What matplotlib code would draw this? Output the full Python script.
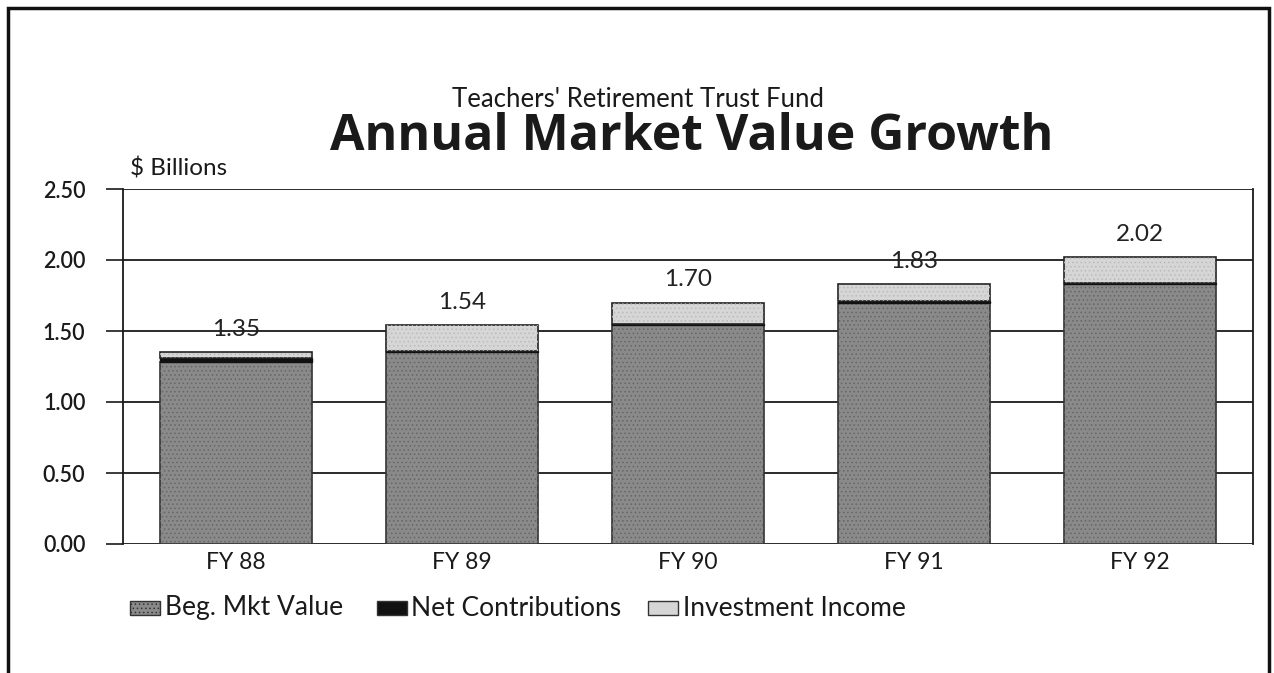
import matplotlib.pyplot as plt
import numpy as np
from matplotlib.patches import Rectangle

years = ["FY 88", "FY 89", "FY 90", "FY 91", "FY 92"]
beg_value = [1.28, 1.35, 1.54, 1.70, 1.83]
net_contrib = [0.03, 0.01, 0.01, 0.01, 0.01]
inv_income = [0.04, 0.18, 0.15, 0.12, 0.18]
totals = ["1.35", "1.54", "1.70", "1.83", "2.02"]
yticks = [0.0, 0.5, 1.0, 1.5, 2.0, 2.5]
legend_labels = ["Beg. Mkt Value", "Net Contributions", "Investment Income"]

plt.rcParams["font.family"] = ["Lato", "DejaVu Sans"]
plt.rcParams["hatch.linewidth"] = 0.6

W, H = 1274, 673
fig = plt.figure(figsize=(W / 100, H / 100), dpi=100)
fig.patch.set_facecolor("white")
ax = fig.add_axes([123 / W, 1 - 544 / H, 1130 / W, 355 / H])

x = np.arange(len(years))
w = 0.67
c_beg, c_net, c_inc = "#8a8a8a", "#111111", "#d6d6d6"
ink = "#1a1a1a"

beg = np.array(beg_value)
net = np.array(net_contrib)
inc = np.array(inv_income)

ax.bar(x, beg, w, color=c_beg, edgecolor="#333333", linewidth=1.2, zorder=3)
ax.bar(x, beg, w, color="none", edgecolor="#666666", hatch="....", linewidth=0, zorder=3)
ax.bar(x, net, w, bottom=beg, color=c_net, edgecolor="#111111", linewidth=1.0, zorder=3)
ax.bar(x, inc, w, bottom=beg + net, color=c_inc, edgecolor="#222222", linewidth=1.2, zorder=3)
ax.bar(x, inc, w, bottom=beg + net, color="none", edgecolor="#bbbbbb", hatch="....", linewidth=0, zorder=3)

for xi, top, lab in zip(x, beg + net + inc, totals):
    ax.annotate(lab, (xi, top), xytext=(0, 9), textcoords="offset points",
                ha="center", va="bottom", fontsize=17.5, color="#222222", zorder=4)

ax.set_xlim(-0.5, 4.5)
ax.set_ylim(0, 2.5)
ax.set_yticks(yticks)
ax.set_yticklabels([f"{v:.2f}" for v in yticks], fontsize=15.5, color=ink, fontweight="semibold")
ax.set_xticks(x)
ax.set_xticklabels(years, fontsize=16.5, color=ink)
ax.tick_params(axis="y", direction="out", length=12, width=1.2, pad=15, color=ink)
ax.tick_params(axis="x", length=0, pad=6)
ax.yaxis.grid(True, color=ink, linewidth=1.3, zorder=0)
ax.set_axisbelow(True)
for s in ["top", "bottom"]:
    ax.spines[s].set_visible(False)
for s in ["left", "right"]:
    ax.spines[s].set_linewidth(1.3)
    ax.spines[s].set_color(ink)

fig.text(130 / W, 1 - 168 / H, "$ Billions", fontsize=17.5, color=ink,
         ha="left", va="center")
fig.text(638 / W, 1 - 107 / H, "Teachers' Retirement Trust Fund", fontsize=18.5,
         color=ink, ha="center", va="baseline")
fig.text(692 / W, 1 - 150 / H, "Annual Market Value Growth", fontsize=36,
         fontweight="bold", family=["Open Sans", "DejaVu Sans"], color=ink,
         ha="center", va="baseline")

# legend drawn by hand to keep the uneven spacing of the original
patch_x = [130, 377, 648]
text_x = [165, 411, 683]
fills = [c_beg, c_net, c_inc]
hatches = ["....", None, None]
for px, tx, fc, ht, lab in zip(patch_x, text_x, fills, hatches, legend_labels):
    fig.add_artist(Rectangle((px / W, 1 - 615 / H), 30 / W, 14 / H, transform=fig.transFigure,
                             facecolor=fc, edgecolor="#333333", hatch=ht, linewidth=1.0))
    fig.text(tx / W, 1 - 608 / H, lab, fontsize=19, color=ink, ha="left", va="center")

fig.add_artist(Rectangle((8 / W, -0.05), 1261 / W, 1.05 - 8 / H,
                         transform=fig.transFigure, fill=False, edgecolor="#111111",
                         linewidth=2.5))

fig.savefig("out.png", dpi=100, facecolor="white")
